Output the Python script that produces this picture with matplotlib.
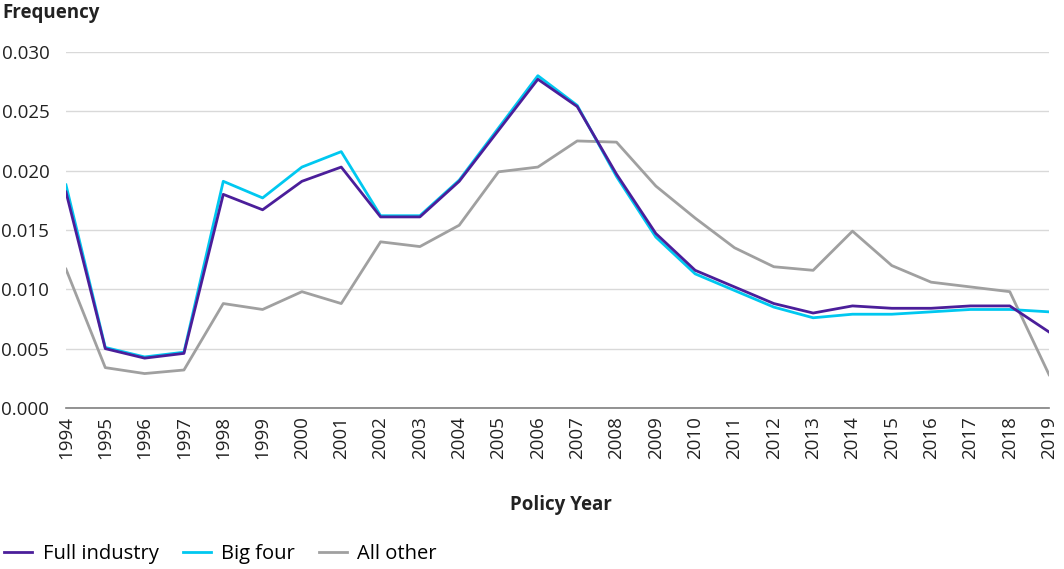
import numpy as np
import matplotlib
matplotlib.use('Agg')
import matplotlib.pyplot as plt

plt.rcParams['font.family'] = ['Open Sans', 'DejaVu Sans']

years = list(range(1994, 2020))
full_industry = [0.0182, 0.0050, 0.0042, 0.0046, 0.0180, 0.0167, 0.0191, 0.0203, 0.0161, 0.0161,
                 0.0191, 0.0234, 0.0277, 0.0254, 0.0197, 0.0147, 0.0116, 0.0102, 0.0088, 0.0080,
                 0.0086, 0.0084, 0.0084, 0.0086, 0.0086, 0.0064]
big_four = [0.0188, 0.0051, 0.0043, 0.0047, 0.0191, 0.0177, 0.0203, 0.0216, 0.0162, 0.0162,
            0.0192, 0.0236, 0.0280, 0.0255, 0.0195, 0.0144, 0.0113, 0.0099, 0.0085, 0.0076,
            0.0079, 0.0079, 0.0081, 0.0083, 0.0083, 0.0081]
all_other = [0.0117, 0.0034, 0.0029, 0.0032, 0.0088, 0.0083, 0.0098, 0.0088, 0.0140, 0.0136,
             0.0154, 0.0199, 0.0203, 0.0225, 0.0224, 0.0187, 0.0160, 0.0135, 0.0119, 0.0116,
             0.0149, 0.0120, 0.0106, 0.0102, 0.0098, 0.0028]
yticks = [0.000, 0.005, 0.010, 0.015, 0.020, 0.025, 0.030]

fig = plt.figure(figsize=(10.64, 5.69), dpi=100)
ax = fig.add_axes([0.062, 0.283, 0.924, 0.6257])

ax.plot(years, all_other, color='#a0a0a0', lw=2, label='All other', zorder=2)
ax.plot(years, big_four, color='#00c8f0', lw=2, label='Big four', zorder=3)
ax.plot(years, full_industry, color='#4b1e9a', lw=2, label='Full industry', zorder=4)

ax.set_xlim(1994, 2019)
ax.set_ylim(0, 0.030)
ax.set_yticks(yticks)
ax.set_yticklabels(['{:.3f}'.format(v) for v in yticks])
ax.set_xticks(years)
ax.set_xticklabels([str(y) for y in years], rotation=90)
ax.tick_params(axis='both', length=0, labelsize=13.5, colors='#222222')
ax.tick_params(axis='y', pad=12)
ax.tick_params(axis='x', pad=6)
ax.grid(axis='y', color='#d9d9d9', lw=1)
ax.set_axisbelow(True)
for s in ['top', 'right', 'left']:
    ax.spines[s].set_visible(False)
ax.spines['bottom'].set_color('#808080')
ax.spines['bottom'].set_linewidth(1.2)

fig.text(0.002, 0.978, 'Frequency', fontsize=13.5, fontweight='bold', color='#222222', va='center', ha='left')
fig.text(0.527, 0.113, 'Policy Year', fontsize=13.5, fontweight='bold', color='#222222', va='center', ha='center')

h, l = ax.get_legend_handles_labels()
order = [2, 1, 0]
fig.legend([h[i] for i in order], [l[i] for i in order], loc='center left',
           bbox_to_anchor=(-0.013, 0.027), ncol=3, frameon=False, fontsize=14.5,
           handlelength=1.4, columnspacing=1.2, handletextpad=0.5)

fig.savefig('out.png', dpi=100)
